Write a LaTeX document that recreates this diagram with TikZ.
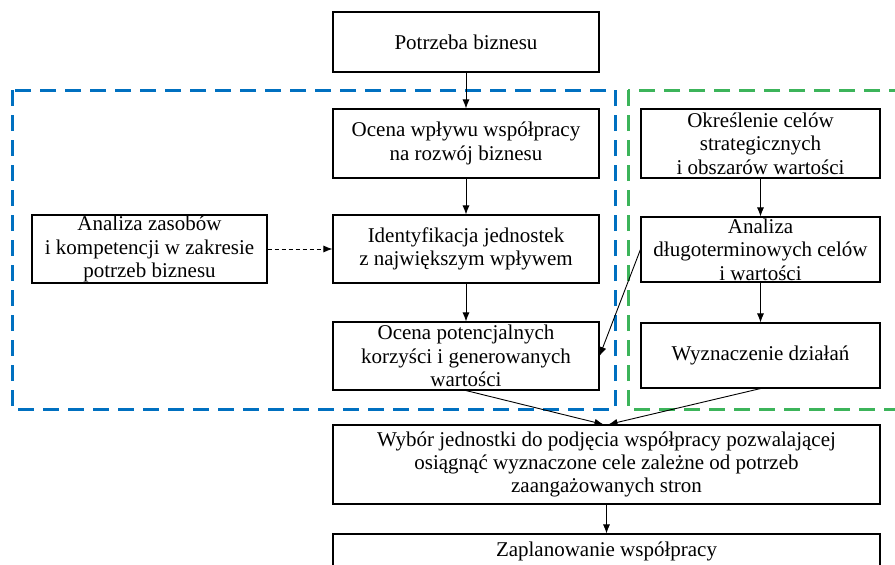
\documentclass[tikz,border=0pt]{standalone}
\usepackage{fontspec}
\setmainfont{Liberation Serif}
\usetikzlibrary{arrows.meta}
\definecolor{grpblue}{RGB}{0,112,192}
\definecolor{grpgreen}{RGB}{60,180,90}
\tikzset{
  box/.style={draw, line width=1.1pt, align=center, inner sep=1pt,
    font=\fontsize{21}{23.4}\selectfont},
  arr/.style={line width=0.9pt, -{Latex[length=9pt,width=7pt]}},
  dasharr/.style={arr, dash pattern=on 4pt off 3pt},
  bluegrp/.style={draw=grpblue, line width=3pt, dash pattern=on 16pt off 9pt},
  greengrp/.style={draw=grpgreen, line width=3pt, dash pattern=on 16pt off 9pt},
}
\begin{document}
\begin{tikzpicture}[x=1pt,y=-1pt]
\useasboundingbox (0,0) rectangle (895,565);
\clip (0,0) rectangle (895,565);
\draw[bluegrp] (12,90) rectangle (615,409);
\draw[greengrp] (628,90) rectangle (910,409);
\node[box, minimum width=266, minimum height=60] (pb) at (466,42) {Potrzeba biznesu};
\node[box, minimum width=266, minimum height=69] (ow) at (466,143.5) {Ocena wpływu współpracy\\na rozwój biznesu};
\node[box, minimum width=266, minimum height=68] (id) at (466,249) {Identyfikacja jednostek\\z największym wpływem};
\node[box, minimum width=266, minimum height=68] (op) at (466,356) {Ocena potencjalnych\\korzyści i generowanych\\wartości};
\node[box, minimum width=235, minimum height=68] (az) at (149.5,249) {Analiza zasobów\\i kompetencji w zakresie\\potrzeb biznesu};
\node[box, minimum width=239, minimum height=69] (ok) at (760.5,143.5) {Określenie celów\\strategicznych\\i obszarów wartości};
\node[box, minimum width=239, minimum height=65] (ad) at (760.5,249.5) {Analiza\\długoterminowych celów\\i wartości};
\node[box, minimum width=239, minimum height=65] (wd) at (760.5,355.5) {Wyznaczenie działań};
\node[box, minimum width=547, minimum height=79] (wy) at (606.5,464.5) {Wybór jednostki do podjęcia współpracy pozwalającej\\osiągnąć wyznaczone cele zależne od potrzeb\\zaangażowanych stron};
\node[box, minimum width=547, minimum height=34] (zp) at (606.5,551) {Zaplanowanie współpracy};
\draw[arr] (pb) -- (ow);
\draw[arr] (ow) -- (id);
\draw[arr] (id) -- (op);
\draw[dasharr] (az) -- (id);
\draw[arr] (ok) -- (ad);
\draw[arr] (ad) -- (wd);
\draw[arr] (ad.west) -- (op.east);
\draw[arr] (op.south) -- ([xshift=-3pt]wy.north);
\draw[arr] (wd.south) -- ([xshift=2pt]wy.north);
\draw[arr] (wy) -- (zp);
\end{tikzpicture}
\end{document}
